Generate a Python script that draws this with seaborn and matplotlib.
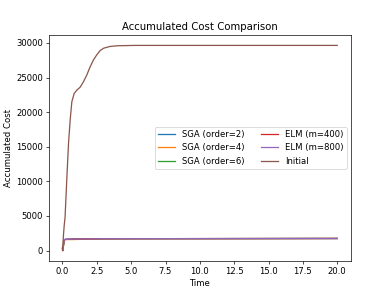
import numpy as np
import pandas as pd
import seaborn as sns
from matplotlib import pyplot as plt

# time grid
time = [0.0, 0.03, 0.07, 0.12, 0.19, 0.31, 0.44, 0.56, 0.68, 0.85, 1.05, 1.28,
        1.5, 1.77, 2.0, 2.25, 2.5, 2.74, 3.0, 3.46, 4.0, 5.2, 7.0, 10.0, 15.0, 20.0]

initial = [0, 900, 2200, 3500, 4900, 10200, 15500, 18900, 21500, 22700, 23200, 23600,
           24300, 25370, 26500, 27540, 28300, 28900, 29250, 29500, 29600, 29650,
           29650, 29650, 29650, 29650]

sga2 = [300, 0, 700, 1500, 1600, 1610, 1620, 1630, 1640, 1650, 1660, 1665,
        1670, 1675, 1680, 1685, 1690, 1695, 1700, 1700, 1705, 1710, 1715, 1720, 1730, 1740]
sga4 = [300, 0, 700, 1500, 1580, 1580, 1580, 1580, 1580, 1590, 1600, 1610,
        1630, 1650, 1670, 1680, 1690, 1695, 1700, 1700, 1705, 1710, 1715, 1720, 1730, 1740]
sga6 = [300, 0, 700, 1500, 1600, 1610, 1620, 1630, 1640, 1650, 1660, 1665,
        1670, 1675, 1680, 1685, 1690, 1695, 1700, 1700, 1705, 1710, 1715, 1720, 1730, 1740]
elm400 = [350, 0, 750, 1520, 1600, 1610, 1620, 1630, 1640, 1650, 1660, 1665,
          1670, 1675, 1680, 1685, 1690, 1695, 1700, 1700, 1705, 1710, 1715, 1720, 1730, 1740]
elm800 = [400, 50, 800, 1550, 1610, 1620, 1625, 1635, 1645, 1655, 1660, 1665,
          1670, 1675, 1680, 1685, 1690, 1695, 1700, 1700, 1705, 1710, 1715, 1720, 1730, 1740]

series = {
    'SGA (order=2)': sga2,
    'SGA (order=4)': sga4,
    'SGA (order=6)': sga6,
    'ELM (m=400)': elm400,
    'ELM (m=800)': elm800,
    'Initial': initial,
}

fig, ax = plt.subplots(figsize=(390 / 61, 293 / 61), dpi=61)
for i, (name, vals) in enumerate(series.items()):
    sns.lineplot(x=time, y=vals, ax=ax, label=name, color=f'C{i}')

ax.set_title('Accumulated Cost Comparison')
ax.set_xlabel('Time')
ax.set_ylabel('Accumulated Cost')
ax.set_xticks(np.arange(0, 20.1, 2.5))
ax.legend(loc='center right', ncol=2)
fig.savefig('out.png', dpi=61)
